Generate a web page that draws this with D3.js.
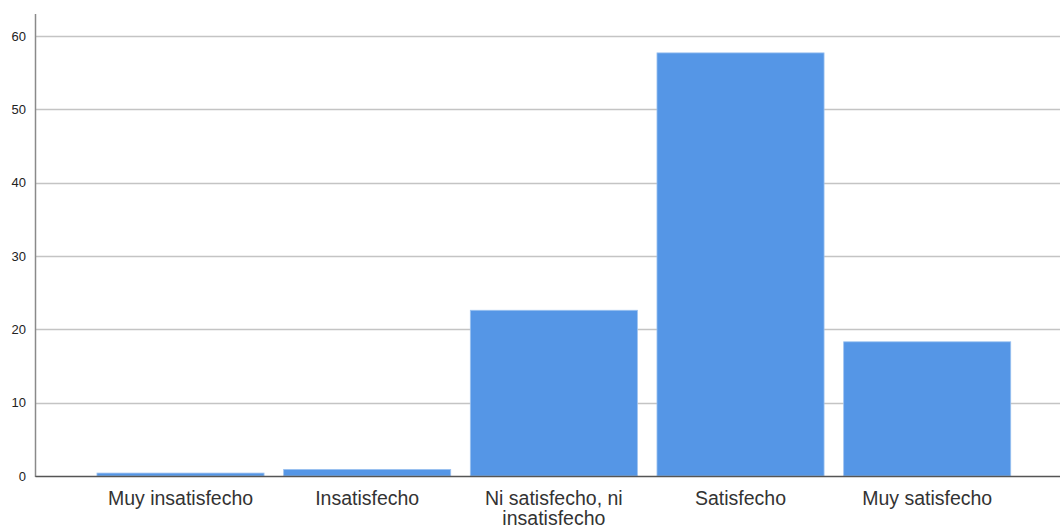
<!DOCTYPE html>
<html><head><meta charset="utf-8">
<script src="https://cdn.jsdelivr.net/npm/d3@7"></script>
<style>body{margin:0;background:#fff}svg{display:block;font-family:"Liberation Sans",Arial,sans-serif}</style>
</head><body><svg id="c" width="1060" height="527"></svg>
<script>
const categories = ["Muy insatisfecho","Insatisfecho","Ni satisfecho, ni insatisfecho","Satisfecho","Muy satisfecho"];
const categoryLines = [["Muy insatisfecho"],["Insatisfecho"],["Ni satisfecho, ni","insatisfecho"],["Satisfecho"],["Muy satisfecho"]];
const values = [0.4, 0.9, 22.6, 57.7, 18.3];
const yTicks = [0,10,20,30,40,50,60];

const svg = d3.select("#c");
const x0 = 35, yBase = 476, yTop = 14;
const y = d3.scaleLinear().domain([0,63]).range([yBase, yBase - 63*7.333]);
const x = d3.scaleBand().domain(categories).range([x0, 1072.7]).paddingInner(0.105).paddingOuter(0.332);

// gridlines
svg.append("g").selectAll("line").data(yTicks.filter(d=>d>0)).join("line")
  .attr("x1", x0).attr("x2", 1060).attr("y1", d=>Math.round(y(d))+0.5).attr("y2", d=>Math.round(y(d))+0.5)
  .attr("stroke","#c4c4c4").attr("stroke-width",1.3);

// bars
svg.append("g").selectAll("rect").data(values).join("rect")
  .attr("x",(d,i)=>x(categories[i])).attr("width",x.bandwidth())
  .attr("y",d=>y(d)).attr("height",d=>yBase-y(d))
  .attr("fill","#5596e6").attr("stroke","#9cc2f0").attr("stroke-width",0.8);

// y axis
const ya = d3.axisLeft(y).tickValues(yTicks).tickSize(0).tickPadding(9);
const yg = svg.append("g").attr("transform",`translate(${x0},0)`).call(ya);
yg.select(".domain").remove();
yg.selectAll("text").attr("font-size",13).attr("fill","#222").attr("font-family","Liberation Sans, Arial, sans-serif");
svg.append("line").attr("x1",x0+0.5).attr("x2",x0+0.5).attr("y1",yTop).attr("y2",yBase+1).attr("stroke","#8a8a8a").attr("stroke-width",1.5);

// x axis
const xa = d3.axisBottom(x).tickSize(0).tickFormat("");
const xg = svg.append("g").attr("transform",`translate(0,${yBase})`).call(xa);
xg.select(".domain").attr("stroke","#555").attr("stroke-width",1.5);
xg.selectAll(".tick").each(function(d,i){
  const t = d3.select(this).append("text").attr("fill","#333").attr("font-size",19.5)
    .attr("text-anchor","middle").attr("font-family","Liberation Sans, Arial, sans-serif");
  categoryLines[i].forEach((ln,j)=>t.append("tspan").attr("x",0).attr("y",28.5+j*20).text(ln));
});
</script></body></html>
